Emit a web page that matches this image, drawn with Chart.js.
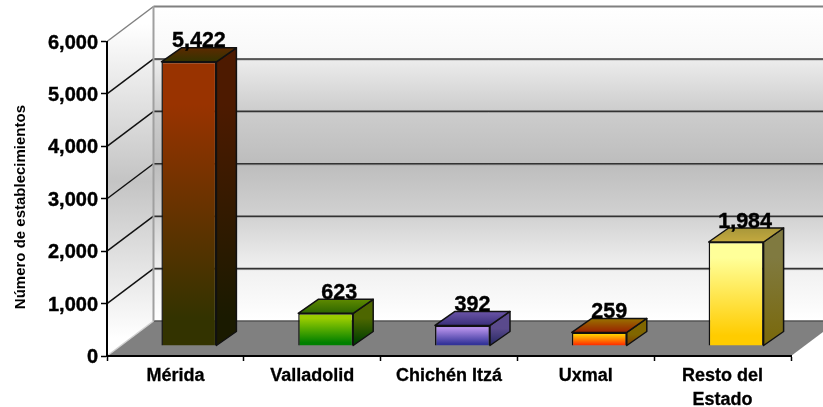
<!DOCTYPE html>
<html>
<head>
<meta charset="utf-8">
<title>Establecimientos</title>
<script src="https://cdn.jsdelivr.net/npm/chart.js@4/dist/chart.umd.min.js"></script>
<style>
  html, body { margin: 0; padding: 0; background: #fff; }
  canvas { display: block; }
</style>
</head>
<body>
<canvas id="myChart" width="823" height="407"></canvas>
<script>
var categories = ["Mérida", "Valladolid", "Chichén Itzá", "Uxmal", ["Resto del", "Estado"]];
var values = [5422, 623, 392, 259, 1984];
var yTicks = [0, 1000, 2000, 3000, 4000, 5000, 6000];
var yTitle = "Número de establecimientos";

// front top, front bottom, side top, side bottom, lid back, lid front
var barColors = [
  ["#993300", "#333300", "#4d1a00", "#1a1a00", "#5c2a00", "#333300"],
  ["#99cc00", "#008000", "#4d6600", "#004000", "#5f8a00", "#2d6600"],
  ["#b38fe8", "#333399", "#5a4a8c", "#2a2a66", "#6b55a8", "#3a2f7a"],
  ["#ffcc00", "#ff3300", "#806600", "#804000", "#997300", "#992000"],
  ["#ffff99", "#ffcc00", "#807a40", "#7a6a10", "#a8973a", "#c4a93e"]
];
// the 623 label sits a little further right than the others
var labelNudge = [0, 3.5, 0, 0, -1];

var FONT = "'Liberation Sans', Arial, sans-serif";
// 3d offsets: back wall, and front plane of the bars
var wallDX = 46.5, wallDY = -35;
var barDX = 13.5, barDY = -10;
var sideDX = 20, sideDY = -14;

function backGradient(ctx, y0, y1) {
  var g = ctx.createLinearGradient(0, y0, 0, y1);
  g.addColorStop(0, "#ffffff");
  g.addColorStop(0.17, "#f7f7f7");
  g.addColorStop(0.175, "#ebebeb");
  g.addColorStop(0.33, "#cdcdcd");
  g.addColorStop(0.5, "#bdbdbd");
  g.addColorStop(0.67, "#d2d2d2");
  g.addColorStop(0.83, "#f0f0f0");
  g.addColorStop(1, "#ffffff");
  return g;
}

function sideGradient(ctx, y0, y1) {
  var g = ctx.createLinearGradient(0, y0, 0, y1);
  g.addColorStop(0, "#ffffff");
  g.addColorStop(0.5, "#c4c4c4");
  g.addColorStop(1, "#ffffff");
  return g;
}

function barGradient(ctx, y0, y1, c0, c1) {
  var g = ctx.createLinearGradient(0, y0, 0, y1);
  g.addColorStop(0.15, c0);
  g.addColorStop(0.9, c1);
  return g;
}

function poly(ctx, pts) {
  ctx.beginPath();
  ctx.moveTo(pts[0][0], pts[0][1]);
  for (var i = 1; i < pts.length; i++) ctx.lineTo(pts[i][0], pts[i][1]);
  ctx.closePath();
}

function line(ctx, x0, y0, x1, y1, color, width) {
  ctx.strokeStyle = color;
  ctx.lineWidth = width;
  ctx.beginPath();
  ctx.moveTo(x0, y0);
  ctx.lineTo(x1, y1);
  ctx.stroke();
}

var room = {
  id: "room",
  beforeDraw: function (chart) {
    var ctx = chart.ctx, a = chart.chartArea, y = chart.scales.y;
    var top = y.getPixelForValue(6000), bot = y.getPixelForValue(0);
    var backL = a.left + wallDX, far = a.right + wallDX;
    ctx.save();
    // floor
    poly(ctx, [[a.left, bot], [backL, bot + wallDY], [far, bot + wallDY], [a.right, bot]]);
    ctx.fillStyle = "#808080";
    ctx.fill();
    // back wall
    poly(ctx, [[backL, top + wallDY], [far, top + wallDY], [far, bot + wallDY], [backL, bot + wallDY]]);
    ctx.fillStyle = backGradient(ctx, top + wallDY, bot + wallDY);
    ctx.fill();
    // side wall
    poly(ctx, [[a.left, top], [backL, top + wallDY], [backL, bot + wallDY], [a.left, bot]]);
    ctx.fillStyle = sideGradient(ctx, top + wallDY / 2, bot + wallDY / 2);
    ctx.fill();
    // grid
    yTicks.forEach(function (t) {
      if (t === 0) return;
      var py = y.getPixelForValue(t);
      if (t < 6000) {
        line(ctx, a.left, py, backL, py + wallDY, "#111", 1.5);
        line(ctx, backL, py + wallDY + 1, far, py + wallDY + 1, "#999", 1);
        line(ctx, backL, py + wallDY, far, py + wallDY, "#333", 1.5);
      }
    });
    // wall edges
    line(ctx, backL, bot + wallDY, far, bot + wallDY, "#555", 1.5);
    line(ctx, backL, top + wallDY, far, top + wallDY, "#808080", 2);
    line(ctx, a.left, top, backL, top + wallDY, "#808080", 1.5);
    line(ctx, backL, top + wallDY, backL, bot + wallDY, "#a0a0a0", 2);
    line(ctx, a.left, bot, backL, bot + wallDY, "#d0d0d0", 1.5);
    ctx.restore();
  },
  beforeDatasetDraw: function (chart, args) {
    var ctx = chart.ctx;
    ctx.save();
    ctx.translate(barDX, barDY);
    args.meta.data.forEach(function (bar, i) {
      var x0 = bar.x - bar.width / 2, x1 = bar.x + bar.width / 2, yt = bar.y, yb = bar.base;
      var c = barColors[i];
      poly(ctx, [[x1, yt], [x1 + sideDX, yt + sideDY], [x1 + sideDX, yb + sideDY], [x1, yb]]);
      ctx.fillStyle = barGradient(ctx, yt, yb, c[2], c[3]);
      ctx.fill();
      ctx.strokeStyle = "#111";
      ctx.lineWidth = 1.5;
      ctx.lineJoin = "round";
      ctx.stroke();
      var g = ctx.createLinearGradient(0, yt + sideDY, 0, yt);
      g.addColorStop(0, c[4]);
      g.addColorStop(1, c[5]);
      poly(ctx, [[x0, yt], [x0 + sideDX, yt + sideDY], [x1 + sideDX, yt + sideDY], [x1, yt]]);
      ctx.fillStyle = g;
      ctx.fill();
      ctx.stroke();
    });
  },
  afterDatasetDraw: function (chart, args) {
    var ctx = chart.ctx;
    ctx.restore();
    // value labels sit on the back edge of each lid
    ctx.save();
    ctx.font = "bold 21.5px " + FONT;
    ctx.fillStyle = "#000";
    ctx.strokeStyle = "#000";
    ctx.lineWidth = 0.4;
    ctx.textAlign = "center";
    ctx.textBaseline = "alphabetic";
    args.meta.data.forEach(function (bar, i) {
      var text = values[i].toLocaleString("en-US");
      var tx = bar.x + barDX + 10 + labelNudge[i], ty = bar.y + barDY + sideDY - 0.5;
      ctx.fillText(text, tx, ty);
      ctx.strokeText(text, tx, ty);
    });
    ctx.restore();
  }
};

var myChart = new Chart(document.getElementById("myChart").getContext("2d"), {
  type: "bar",
  data: {
    labels: categories,
    datasets: [{
      data: values,
      clip: false,
      barPercentage: 0.402,
      categoryPercentage: 1,
      borderWidth: 1.5,
      borderColor: "#111",
      backgroundColor: function (c) {
        if (c.dataIndex === undefined || !c.chart.chartArea) return "#888";
        var y = c.chart.scales.y, col = barColors[c.dataIndex];
        return barGradient(c.chart.ctx, y.getPixelForValue(values[c.dataIndex]), y.getPixelForValue(0), col[0], col[1]);
      }
    }]
  },
  plugins: [room],
  options: {
    responsive: false,
    animation: false,
    layout: { autoPadding: false, padding: { left: 0, right: 32, top: 41.5, bottom: 0 } },
    plugins: { legend: { display: false }, tooltip: { enabled: false }, title: { display: false } },
    scales: {
      x: {
        afterFit: function (s) { s.height = 51; },
        grid: { drawOnChartArea: false, color: "#000", tickLength: 5, tickWidth: 1.5, offset: true },
        border: { color: "#000", width: 2 },
        ticks: {
          color: "#000",
          textStrokeColor: "#000",
          textStrokeWidth: 0.3,
          autoSkip: false,
          maxRotation: 0,
          padding: 3,
          font: { family: FONT, size: 18, weight: "bold", lineHeight: 1.333 }
        }
      },
      y: {
        min: 0,
        max: 6000,
        afterFit: function (s) { s.width = 107; },
        afterBuildTicks: function (s) { s.ticks = yTicks.map(function (v) { return { value: v }; }); },
        grid: { drawOnChartArea: false, color: "#000", tickLength: 6, tickWidth: 1.5 },
        border: { color: "#000", width: 2 },
        title: {
          display: true,
          text: yTitle + "    ",
          color: "#000",
          padding: { top: 12, bottom: 0 },
          font: { family: FONT, size: 15, weight: "bold" }
        },
        ticks: {
          color: "#000",
          textStrokeColor: "#000",
          textStrokeWidth: 0.4,
          padding: 3,
          labelOffset: 1.5,
          font: { family: FONT, size: 20, weight: "bold" },
          callback: function (v) { return v.toLocaleString("en-US"); }
        }
      }
    }
  }
});
</script>
</body>
</html>
